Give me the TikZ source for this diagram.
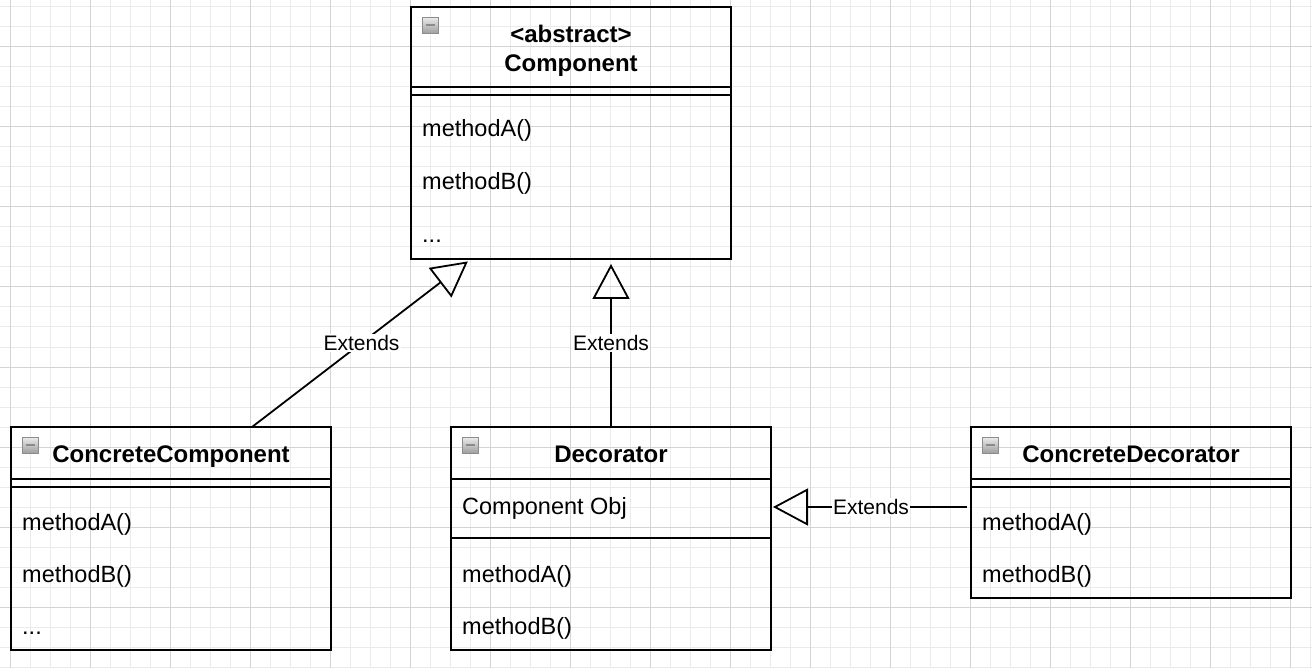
\documentclass[tikz,border=0pt]{standalone}
\usepackage{fontspec}
\setmainfont{Liberation Sans}
\usetikzlibrary{positioning, arrows.meta, calc}
\tikzset{umlclasses/.style={
    classbox/.style={rectangle, draw=black, line width=2pt, minimum width=320pt, inner sep=0pt, outer sep=0pt, anchor=north west},
    divider/.style={draw=black, line width=2pt},
    toggle/.style={rectangle, draw=black!45, top color=black!8, bottom color=black!38, minimum size=16pt, inner sep=0pt, anchor=north west,
        path picture={\draw[line width=1.6pt] ([xshift=3.5pt]path picture bounding box.west) -- ([xshift=-3.5pt]path picture bounding box.east);}},
    title/.style={font=\fontsize{24}{29}\selectfont\bfseries, align=center, inner sep=0pt},
    member/.style={font=\fontsize{23.5}{28}\selectfont, anchor=base west, inner sep=0pt},
    extends/.style={line width=1.8pt, -{Triangle[open, length=35pt, width=37pt, line width=1.8pt]}},
    relname/.style={fill=white, font=\fontsize{21}{24}\selectfont, inner sep=1.5pt},
    gridminor/.style={black!8, line width=1pt},
    gridmajor/.style={black!17, line width=1pt},
}}

\begin{document}
\begin{tikzpicture}[umlclasses, x=1pt, y=-1pt]
    \useasboundingbox (0,0) rectangle (1312,668);
    \fill[white] (0,0) rectangle (1312,668);
    % background grid
    \foreach \gx in {10,30,...,1310} \draw[gridminor] (\gx,0) -- (\gx,668);
    \foreach \gy in {7,27,...,667} \draw[gridminor] (0,\gy) -- (1312,\gy);
    \foreach \gx in {10,90,...,1290} \draw[gridmajor] (\gx,0) -- (\gx,668);
    \foreach \gy in {47,127,...,627} \draw[gridmajor] (0,\gy) -- (1312,\gy);

    % abstract component
    \node[classbox, minimum height=252pt] (comp) at (411,7) {};
    \draw[divider] ($(comp.north west)+(0,80)$) -- ($(comp.north east)+(0,80)$);
    \draw[divider] ($(comp.north west)+(0,88)$) -- ($(comp.north east)+(0,88)$);
    \node[toggle] (compToggle) at ($(comp.north west)+(11,10)$) {};
    \node[title] (compName) at ($(comp.north)+(0,44)$) {<abstract>\\Component};
    \node[member] (compA) at ($(comp.north west)+(11,130)$) {methodA()};
    \node[member] (compB) at ($(comp.north west)+(11,183)$) {methodB()};
    \node[member] (compDots) at ($(comp.north west)+(11,236)$) {...};

    % concrete component
    \node[classbox, minimum height=223pt] (cc) at (11,427) {};
    \draw[divider] ($(cc.north west)+(0,52)$) -- ($(cc.north east)+(0,52)$);
    \draw[divider] ($(cc.north west)+(0,60)$) -- ($(cc.north east)+(0,60)$);
    \node[toggle] (ccToggle) at ($(cc.north west)+(11,10)$) {};
    \node[title, anchor=base] (ccName) at ($(cc.north)+(0,35)$) {ConcreteComponent};
    \node[member] (ccA) at ($(cc.north west)+(11,103)$) {methodA()};
    \node[member] (ccB) at ($(cc.north west)+(11,155)$) {methodB()};
    \node[member] (ccDots) at ($(cc.north west)+(11,207)$) {...};

    % decorator
    \node[classbox, minimum height=223pt] (dec) at (451,427) {};
    \draw[divider] ($(dec.north west)+(0,52)$) -- ($(dec.north east)+(0,52)$);
    \draw[divider] ($(dec.north west)+(0,111)$) -- ($(dec.north east)+(0,111)$);
    \node[toggle] (decToggle) at ($(dec.north west)+(11,10)$) {};
    \node[title, anchor=base] (decName) at ($(dec.north)+(0,35)$) {Decorator};
    \node[member] (decObj) at ($(dec.north west)+(11,87)$) {Component Obj};
    \node[member] (decA) at ($(dec.north west)+(11,155)$) {methodA()};
    \node[member] (decB) at ($(dec.north west)+(11,207)$) {methodB()};

    % concrete decorator
    \node[classbox, minimum height=171pt] (cd) at (971,427) {};
    \draw[divider] ($(cd.north west)+(0,52)$) -- ($(cd.north east)+(0,52)$);
    \draw[divider] ($(cd.north west)+(0,60)$) -- ($(cd.north east)+(0,60)$);
    \node[toggle] (cdToggle) at ($(cd.north west)+(11,10)$) {};
    \node[title, anchor=base] (cdName) at ($(cd.north)+(0,35)$) {ConcreteDecorator};
    \node[member] (cdA) at ($(cd.north west)+(11,103)$) {methodA()};
    \node[member] (cdB) at ($(cd.north west)+(11,155)$) {methodB()};

    % inheritance
    \draw[extends, shorten >=4pt] ([xshift=81pt]cc.north) -- ([xshift=-100pt]comp.south)
        node[relname, midway] {Extends};
    \draw[extends, shorten >=5pt] (dec.north) -- ([xshift=40pt]comp.south)
        node[relname, midway] {Extends};
    \draw[extends, shorten <=4pt, shorten >=2pt] ($(cd.north west)+(0,80)$) -- ($(dec.north east)+(0,80)$)
        node[relname, midway] {Extends};
\end{tikzpicture}
\end{document}
